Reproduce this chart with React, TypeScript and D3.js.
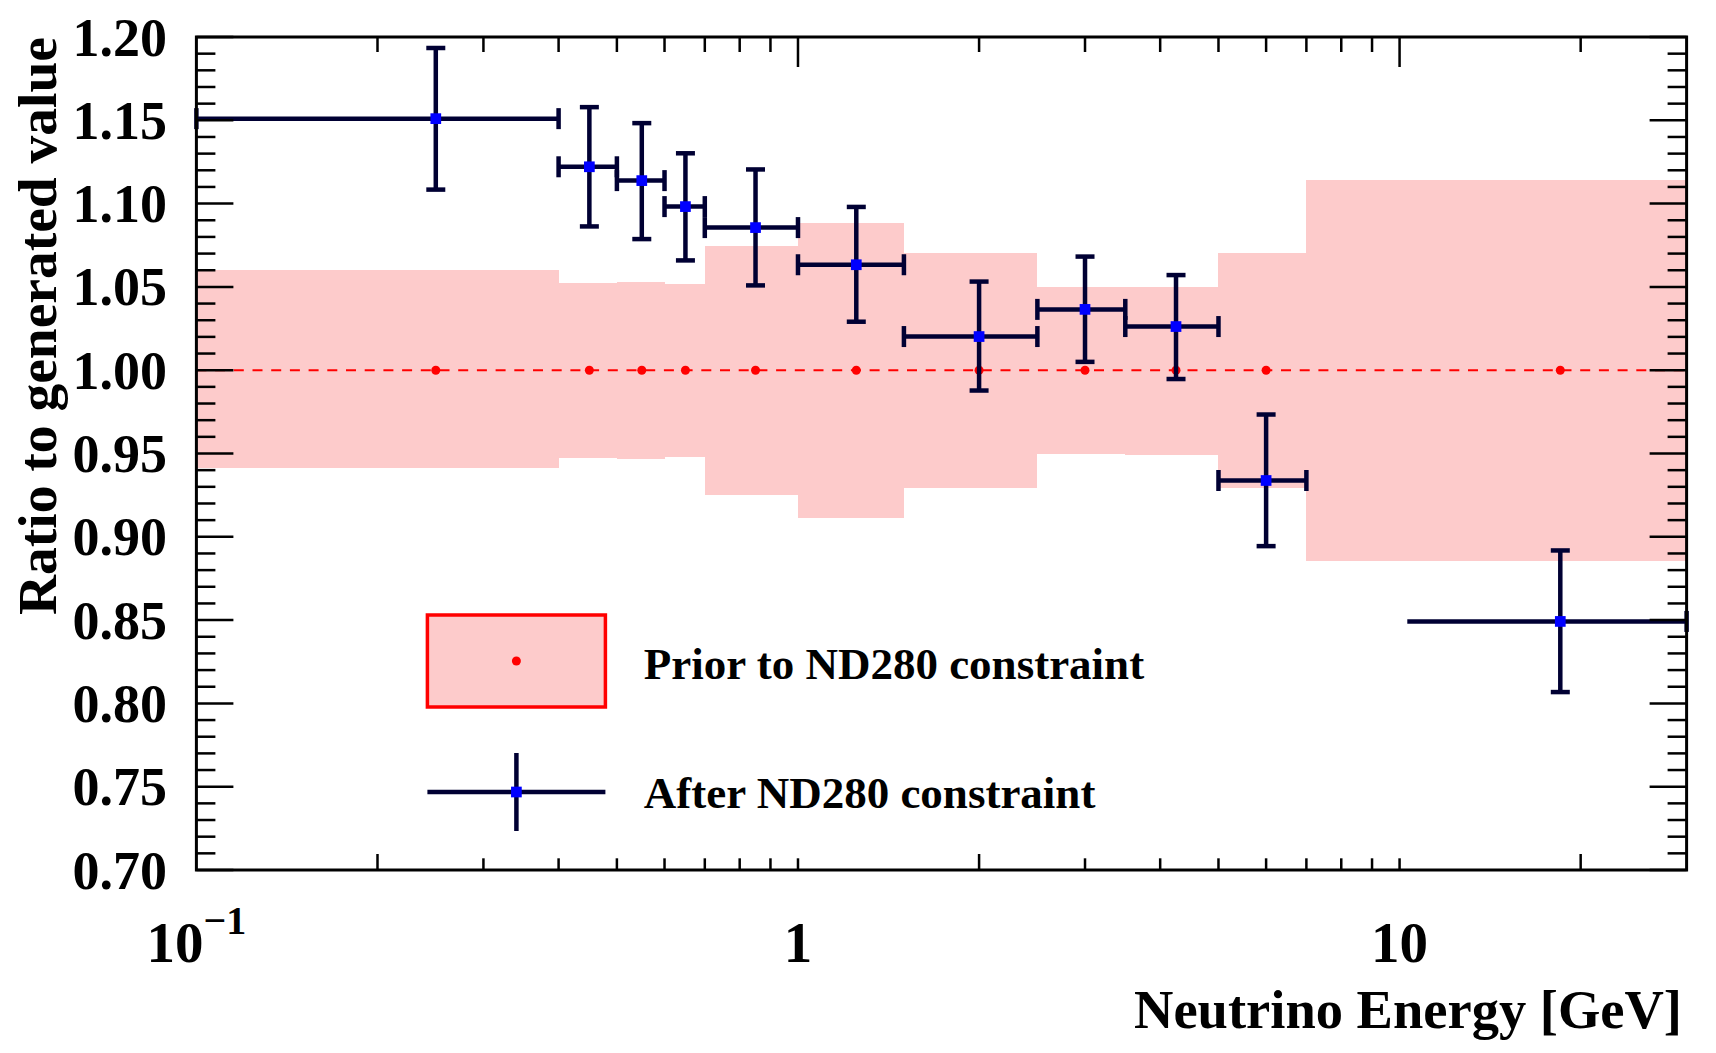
import React from "react";
import * as d3 from "d3";

// ---------- data ----------
const binEdges = [0.1, 0.4, 0.5, 0.6, 0.7, 1.0, 1.5, 2.5, 3.5, 5.0, 7.0, 30];
const binCenters = [0.25, 0.45, 0.55, 0.65, 0.85, 1.25, 2.0, 3.0, 4.25, 6.0, 18.5];

const priorValue = [1, 1, 1, 1, 1, 1, 1, 1, 1, 1, 1];
const priorHigh = [1.06, 1.0525, 1.0528, 1.0516, 1.0743, 1.0881, 1.0702, 1.05, 1.0498, 1.0701, 1.114];
const priorLow = [0.941, 0.9471, 0.9467, 0.948, 0.9251, 0.9113, 0.9292, 0.9497, 0.9493, 0.9295, 0.8856];

const afterValue = [1.151, 1.1221, 1.1138, 1.0982, 1.0856, 1.0633, 1.0202, 1.0365, 1.0262, 0.9338, 0.8492];
const afterHigh = [1.1934, 1.1579, 1.1483, 1.1302, 1.1205, 1.098, 1.0532, 1.0682, 1.0571, 0.9734, 0.8918];
const afterLow = [1.1084, 1.0863, 1.0787, 1.0659, 1.0509, 1.0291, 0.9878, 1.005, 0.9947, 0.8944, 0.8068];
const afterXLow = [0.1, 0.4, 0.5, 0.6, 0.7, 1.0, 1.5, 2.5, 3.5, 5.0, 10.3];
const afterXHigh = [0.4, 0.5, 0.6, 0.7, 1.0, 1.5, 2.5, 3.5, 5.0, 7.0, 30];

const yTickLabels = ["0.70", "0.75", "0.80", "0.85", "0.90", "0.95", "1.00", "1.05", "1.10", "1.15", "1.20"];
const xTickValues = [0.1, 1, 10];

const legendLabels = ["Prior to ND280 constraint", "After ND280 constraint"];
const xTitle = "Neutrino Energy [GeV]";
const yTitle = "Ratio to generated value";

// ---------- style ----------
const W = 1716, H = 1053;
const L = 196.4, R = 1686.6, T = 37, B = 870;
const FONT = "'Liberation Serif', 'Times New Roman', serif";
const PINK = "#fdcbcb";
const NAVY = "#000033";

export default function App() {
  const x = d3.scaleLog().domain([0.1, 30]).range([L, R]);
  const y = d3.scaleLinear().domain([0.7, 1.2]).range([B, T]);

  const yMajor = yTickLabels.map((s) => +s);
  const yMinor = d3.range(70, 121).map((v) => v / 100).filter((v) => Math.round(v * 100) % 5 !== 0);

  const xTicks: { v: number; k: number }[] = [];
  [0.1, 1, 10].forEach((dec) => {
    for (let k = 1; k <= 9; k++) {
      const v = k * dec;
      if (v > 0.1 + 1e-9 && v < 30 - 1e-9) xTicks.push({ v, k });
    }
  });

  const cap = 9.5;
  const lw = 4.5;
  const ms = 10.7;

  return (
    <svg width={W} height={H} style={{ position: "absolute", left: 0, top: 0, background: "#fff" }}
      fontFamily={FONT} fontWeight="bold">
      <rect x={0} y={0} width={W} height={H} fill="#fff" />
      {/* prior band */}
      {binCenters.map((c, i) => (
        <rect key={"pb" + i} x={x(binEdges[i])} width={x(binEdges[i + 1]) - x(binEdges[i])}
          y={y(priorHigh[i])} height={y(priorLow[i]) - y(priorHigh[i])} fill={PINK} shapeRendering="crispEdges" />
      ))}
      {/* dashed reference line */}
      <line x1={L} x2={R} y1={y(1)} y2={y(1)} stroke="#ff0000" strokeWidth={2} strokeDasharray="10 8.7" />
      {binCenters.map((c, i) => (
        <circle key={"pd" + i} cx={x(c)} cy={y(priorValue[i])} r={4.5} fill="#ff0000" />
      ))}
      {/* after graph */}
      {binCenters.map((c, i) => {
        const cx = x(c), cy = y(afterValue[i]);
        const x0 = x(afterXLow[i]), x1 = x(afterXHigh[i]);
        const yt = y(afterHigh[i]), yb = y(afterLow[i]);
        const leftCap = binEdges.includes(afterXLow[i]);
        return (
          <g key={"ag" + i} stroke={NAVY} strokeWidth={lw}>
            <line x1={x0} x2={x1} y1={cy} y2={cy} />
            <line x1={cx} x2={cx} y1={yt} y2={yb} />
            <line x1={cx - cap} x2={cx + cap} y1={yt} y2={yt} />
            <line x1={cx - cap} x2={cx + cap} y1={yb} y2={yb} />
            {leftCap && <line x1={x0} x2={x0} y1={cy - cap - 1} y2={cy + cap + 1} />}
            <line x1={x1} x2={x1} y1={cy - cap - 1} y2={cy + cap + 1} />
          </g>
        );
      })}
      {binCenters.map((c, i) => (
        <rect key={"am" + i} x={x(c) - ms / 2} y={y(afterValue[i]) - ms / 2} width={ms} height={ms} fill="#0000ff" />
      ))}
      {/* axes ticks */}
      <g stroke="#000" strokeWidth={2.5}>
        {yMajor.map((v) => (
          <g key={"ym" + v}>
            <line x1={L} x2={L + 37} y1={y(v)} y2={y(v)} />
            <line x1={R} x2={R - 37} y1={y(v)} y2={y(v)} />
          </g>
        ))}
        {yMinor.map((v) => (
          <g key={"yn" + v}>
            <line x1={L} x2={L + 19} y1={y(v)} y2={y(v)} />
            <line x1={R} x2={R - 19} y1={y(v)} y2={y(v)} />
          </g>
        ))}
        {xTicks.map((t) => (
          <g key={"xt" + t.v}>
            <line x1={x(t.v)} x2={x(t.v)} y1={T} y2={T + (t.k === 1 ? 30 : 15)} />
            <line x1={x(t.v)} x2={x(t.v)} y1={B} y2={B - (t.k === 2 ? 16 : 11.7)} />
          </g>
        ))}
      </g>
      <rect x={L} y={T} width={R - L} height={B - T} fill="none" stroke="#000" strokeWidth={3} />
      {/* y tick labels */}
      {yTickLabels.map((s) => (
        <text key={"yl" + s} x={167} y={y(+s) + 18.5} fontSize={54} textAnchor="end" fill="#000">{s}</text>
      ))}
      {/* x tick labels */}
      {xTickValues.map((v) => {
        const e = Math.round(Math.log10(v));
        return (
          <text key={"xl" + v} x={x(v)} y={961.7} fontSize={57} textAnchor="middle" fill="#000">
            {e < 0 ? (
              <>
                <tspan>10</tspan>
                <tspan fontSize={40} dy={-28}>{"\u2212" + Math.abs(e)}</tspan>
              </>
            ) : (
              String(v)
            )}
          </text>
        );
      })}
      {/* titles */}
      <text x={1682} y={1028} fontSize={54.5} textAnchor="end" fill="#000">{xTitle}</text>
      <text transform={`translate(56,${T}) rotate(-90)`} fontSize={55.5} textAnchor="end" fill="#000">{yTitle}</text>
      {/* legend */}
      <g>
        <rect x={427.4} y={615} width={178} height={92} fill={PINK} stroke="#ff0000" strokeWidth={3.5} />
        <circle cx={516.4} cy={661} r={4.5} fill="#ff0000" />
        <text x={643.8} y={679} fontSize={45} fill="#000">{legendLabels[0]}</text>
        <g stroke={NAVY} strokeWidth={lw}>
          <line x1={427.4} x2={605.4} y1={792} y2={792} />
          <line x1={516.4} x2={516.4} y1={753} y2={831} />
        </g>
        <rect x={516.4 - ms / 2} y={792 - ms / 2} width={ms} height={ms} fill="#0000ff" />
        <text x={643.8} y={808} fontSize={45} fill="#000">{legendLabels[1]}</text>
      </g>
    </svg>
  );
}
